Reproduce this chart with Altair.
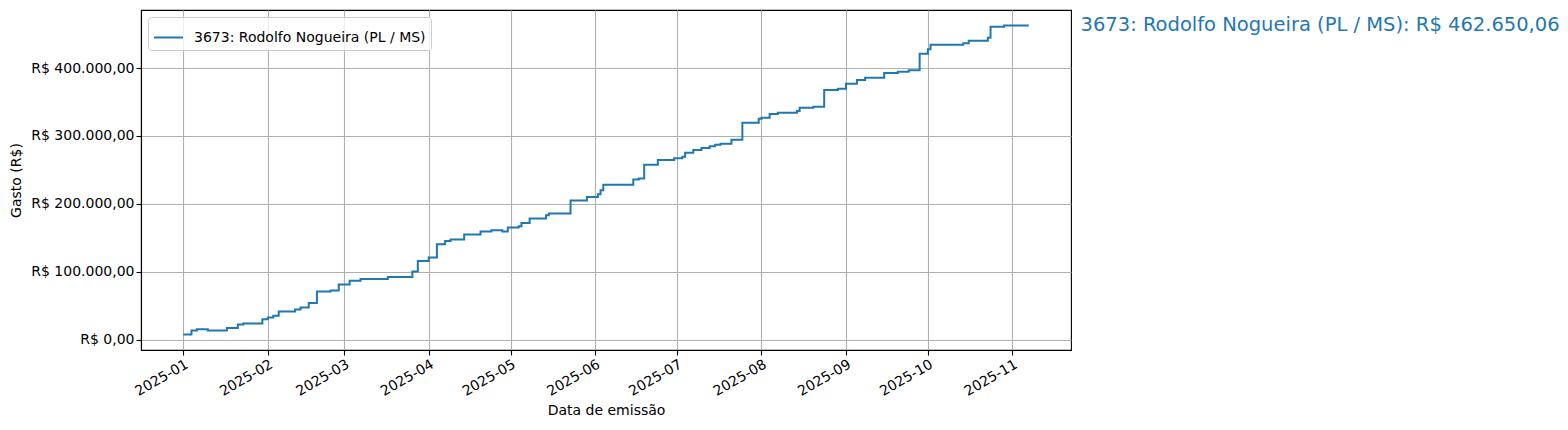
import altair as alt
import pandas as pd

serie = "3673: Rodolfo Nogueira (PL / MS)"
total_label = "3673: Rodolfo Nogueira (PL / MS): R$ 462.650,06"

datas = ["2025-01-01", "2025-01-04", "2025-01-06", "2025-01-10", "2025-01-17", "2025-01-21",
         "2025-01-23", "2025-01-30", "2025-02-01", "2025-02-03", "2025-02-05", "2025-02-11",
         "2025-02-13", "2025-02-16", "2025-02-19", "2025-02-24", "2025-02-27", "2025-03-03",
         "2025-03-07", "2025-03-17", "2025-03-26", "2025-03-28", "2025-04-01", "2025-04-04",
         "2025-04-07", "2025-04-09", "2025-04-14", "2025-04-20", "2025-04-24", "2025-04-28",
         "2025-04-30", "2025-05-04", "2025-05-05", "2025-05-08", "2025-05-14", "2025-05-15",
         "2025-05-23", "2025-05-29", "2025-06-02", "2025-06-03", "2025-06-04", "2025-06-15",
         "2025-06-17", "2025-06-19", "2025-06-24", "2025-06-30", "2025-07-03", "2025-07-04",
         "2025-07-07", "2025-07-10", "2025-07-13", "2025-07-15", "2025-07-17", "2025-07-21",
         "2025-07-25", "2025-07-31", "2025-08-01", "2025-08-04", "2025-08-07", "2025-08-14",
         "2025-08-15", "2025-08-20", "2025-08-24", "2025-08-29", "2025-09-01", "2025-09-05",
         "2025-09-08", "2025-09-15", "2025-09-20", "2025-09-24", "2025-09-28", "2025-10-01",
         "2025-10-02", "2025-10-14", "2025-10-16", "2025-10-23", "2025-10-24", "2025-10-29",
         "2025-11-07"]

gasto = [7800, 13700, 15700, 13700, 17600, 22500,
         24000, 30400, 32800, 35300, 41600, 44600,
         47500, 54400, 71000, 72500, 81300, 86800,
         89700, 92600, 100500, 116000, 121000, 140500,
         145600, 147800, 154900, 159300, 161300, 159400,
         165200, 167200, 172000, 178400, 183300, 185800,
         204900, 210300, 214200, 220000, 228400, 235800,
         237300, 257800, 264700, 267200, 269600, 275500,
         279400, 282400, 284800, 287200, 288700, 294300,
         319600, 325400, 326900, 332400, 334300, 336800,
         341700, 343100, 367600, 369600, 377000, 382400,
         385800, 392600, 394600, 396600, 421000, 427500,
         434300, 436300, 440100, 444600, 460700, 462650.06,
         462650.06]

y_ticks = [0, 100000, 200000, 300000, 400000]
x_ticks = ["2025-01-01", "2025-02-01", "2025-03-01", "2025-04-01", "2025-05-01", "2025-06-01",
           "2025-07-01", "2025-08-01", "2025-09-01", "2025-10-01", "2025-11-01"]

df = pd.DataFrame({"data": datas, "gasto": gasto, "serie": serie})

# matplotlib-like 5% margins
ymin, ymax = min(gasto), max(gasto)
yr = ymax - ymin
y_domain = [ymin - 0.05 * yr, ymax + 0.05 * yr]
t0 = pd.Timestamp(datas[0])
t1 = pd.Timestamp(datas[-1])
tr = t1 - t0
x_domain = [(t0 - 0.05 * tr).timestamp() * 1000, (t1 + 0.05 * tr).timestamp() * 1000]
x_tick_vals = [pd.Timestamp(d).timestamp() * 1000 for d in x_ticks]

W, H = 930, 340
FONT = "DejaVu Sans"
FS = 14

line = alt.Chart(df).mark_line(interpolate="step-after", strokeWidth=2).encode(
    x=alt.X("data:T",
            scale=alt.Scale(type="utc", domain=x_domain, nice=False),
            axis=alt.Axis(title="Data de emissão", values=x_tick_vals,
                          labelExpr="utcFormat(datum.value, '%Y-%m')",
                          labelAngle=-30, labelAlign="right", labelBaseline="top",
                          labelPadding=2, titlePadding=5)),
    y=alt.Y("gasto:Q",
            scale=alt.Scale(domain=y_domain, nice=False, zero=False),
            axis=alt.Axis(title="Gasto (R$)", values=y_ticks,
                          labelExpr="'R$ ' + replace(replace(replace(format(datum.value, ',.2f'), regexp(',', 'g'), '#'), '.', ','), regexp('#', 'g'), '.')",
                          titlePadding=7)),
    color=alt.Color("serie:N", scale=alt.Scale(range=["#1f77b4"]),
                    legend=alt.Legend(title=None, orient="top-left", offset=7,
                                      symbolType="stroke", symbolSize=841,
                                      symbolStrokeWidth=2, labelFontSize=FS,
                                      labelFont=FONT, labelOffset=10, labelLimit=0,
                                      strokeColor="#cccccc", fillColor="rgba(255,255,255,0.8)",
                                      cornerRadius=3, padding=5)),
)

annot = alt.Chart(pd.DataFrame({"label": [total_label]})).mark_text(
    align="left", baseline="alphabetic", fontSize=19.5, font=FONT, color="#1f77b4"
).encode(
    x=alt.value(W + 9.5), y=alt.value(21), text="label:N"
)

chart = alt.layer(line, annot).properties(
    width=W, height=H,
    autosize=alt.AutoSizeParams(type="none"),
    padding={"left": 133, "top": 2, "right": 489, "bottom": 70},
).configure_view(
    stroke="black", strokeWidth=1.1
).configure_axis(
    labelFont=FONT, titleFont=FONT, labelFontSize=FS, titleFontSize=FS,
    titleFontWeight="normal", labelColor="black", titleColor="black",
    gridColor="#b0b0b0", gridWidth=1.1, domainColor="black", domainWidth=1.1,
    tickColor="black", tickWidth=1.1, tickSize=5,
)

chart.save("out.html", embed_options={"renderer": "svg", "actions": False})
